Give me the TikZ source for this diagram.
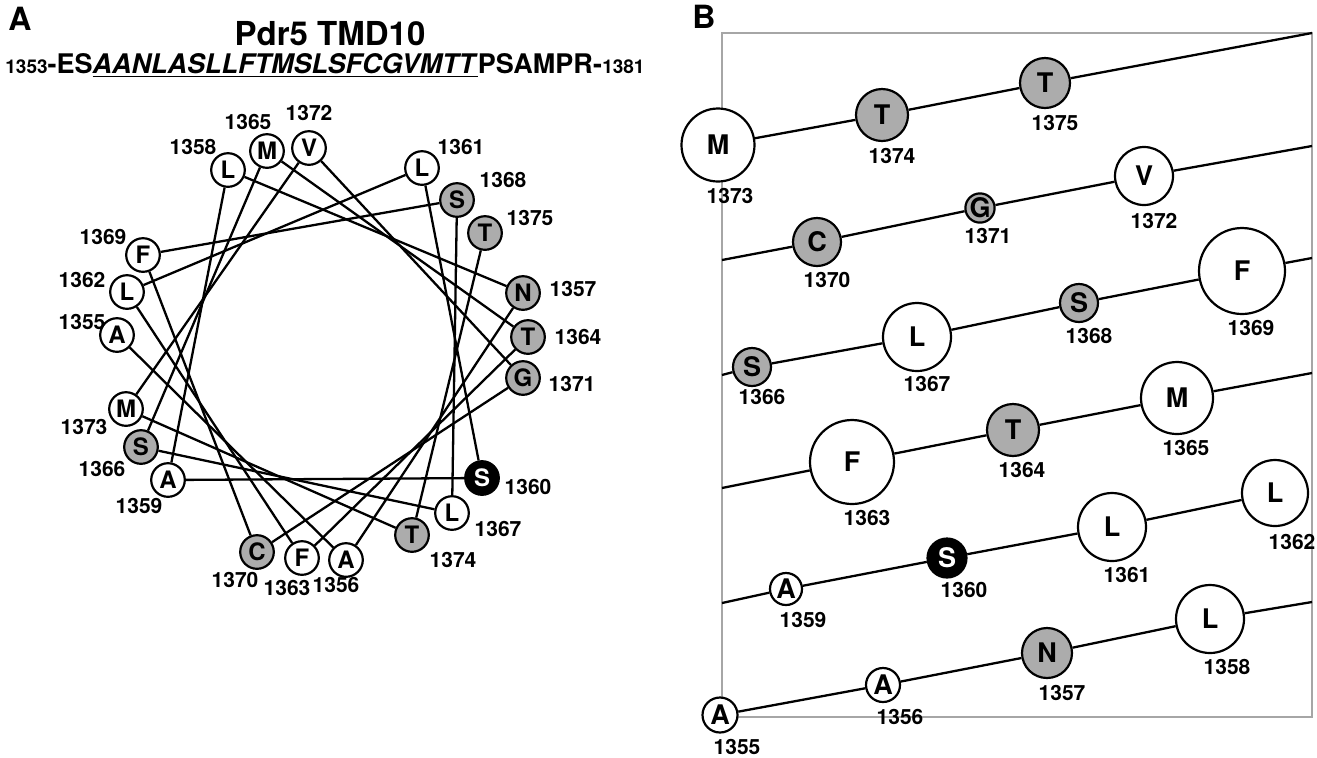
\documentclass[tikz,border=0pt]{standalone}
\usepackage{fontspec}
\setmainfont{TeX Gyre Heros}
\usetikzlibrary{backgrounds}
\definecolor{resgray}{RGB}{172,172,172}
\tikzset{
  ra/.style={circle, draw, line width=1.1pt, fill=white, inner sep=0pt, minimum size=16.8pt, font=\bfseries\fontsize{12}{12}\selectfont},
  rb/.style={circle, draw, line width=1.1pt, fill=white, inner sep=0pt, font=\bfseries\fontsize{13.5}{13.5}\selectfont},
  fw/.style={},
  fg/.style={fill=resgray},
  fb/.style={fill=black, text=white},
  num/.style={inner sep=0pt, font=\bfseries\fontsize{10.5}{10.5}\selectfont},
  numb/.style={inner sep=0pt, font=\bfseries\fontsize{10.5}{10.5}\selectfont},
  conn/.style={line width=1.15pt},
  panel/.style={inner sep=0pt, anchor=base west, font=\bfseries\fontsize{16}{16}\selectfont},
}
\begin{document}
\begin{tikzpicture}[x=0.5pt,y=-0.5pt]
\useasboundingbox (0,0) rectangle (1317,757);
% panel labels and title
\node[panel] (pA) at (8,30) {A};
\node[panel] (pB) at (692,28) {B};
\node[inner sep=0pt, anchor=base, font=\bfseries\fontsize{16.5}{17}\selectfont] (title) at (330,45) {Pdr5 TMD10};
\node[inner sep=0pt, anchor=base west, font=\bfseries\fontsize{13.5}{14}\selectfont] (seq) at (5,73)
  {{\fontsize{9.5}{9.5}\selectfont 1353}-ES\underline{\textit{AANLASLLFTMSLSFCGVMTT}}PSAMPR-{\fontsize{9.5}{9.5}\selectfont 1381}};
% panel A: helical wheel
\foreach \n/\x/\y/\l/\s/\lx/\ly in {
  1355/117/335/A/fw/82/322, 1356/346/560/A/fw/336/585, 1357/523/293/N/fg/573/289,
  1358/228/170/L/fw/193/147, 1359/168/480/A/fw/139/506, 1360/482/478/S/fb/528/487,
  1361/422/168/L/fw/461/147, 1362/127/292/L/fw/82/280, 1363/302/558/F/fw/287/588,
  1364/528/337/T/fg/578/337, 1365/267/151/M/fw/248/122, 1366/141/447/S/fg/102/469,
  1367/452/513/L/fw/498/529, 1368/457/200/S/fg/503/180, 1369/143/255/F/fw/103/237,
  1370/257/552/C/fg/235/580, 1371/523/378/G/fg/572/384, 1372/309/148/V/fw/309/113,
  1373/126/409/M/fw/84/427, 1374/412/535/T/fg/453/560, 1375/485/233/T/fg/530/218}
{
  \node[ra, \s] (a\n) at (\x,\y) {\l};
  \node[num] (na\n) at (\lx,\ly) {\n};
}
\begin{scope}[on background layer]
\foreach \i [evaluate=\i as \j using int(\i+1)] in {1355,...,1374}
  \draw[conn] (a\i) -- (a\j);
\end{scope}
% panel B: helical net
\foreach \n/\x/\y/\l/\s/\d/\lx/\ly in {
  1355/720/715/A/fw/17.5/737/747, 1356/883/685/A/fw/17/900/717, 1357/1047/653/N/fg/25/1062/693,
  1358/1210/619/L/fw/34/1227/667, 1359/786/589/A/fw/16/803/620, 1360/947/558/S/fb/19.5/964/590,
  1361/1112/527/L/fw/34/1127/575, 1362/1275/493/L/fw/33/1292/542, 1363/852/462/F/fw/42/867/518,
  1364/1013/430/T/fg/26/1022/470, 1365/1177/398/M/fw/36/1186/448, 1366/752/367/S/fg/19/762/397,
  1367/917/337/L/fw/34/927/384, 1368/1079/303/S/fg/19/1089/336, 1369/1242/271/F/fw/43/1251/328,
  1370/817/242/C/fg/24/827/280, 1371/980/208/G/fg/13/988/236, 1372/1144/176/V/fw/29/1154/221,
  1373/718/145/M/fw/36.5/730/196, 1374/882/115/T/fg/26/892/156, 1375/1045/83/T/fg/25/1055/123}
{
  \node[rb, \s, minimum size=\d pt] (b\n) at (\x,\y) {\l};
  \node[numb] (nb\n) at (\lx,\ly) {\n};
}
\coordinate (e1) at (1312,602);
\coordinate (s2) at (722,603);
\coordinate (s3) at (722,488);
\coordinate (e3) at (1312,373);
\coordinate (s4) at (722,375);
\coordinate (e4) at (1312,258);
\coordinate (s5) at (722,260);
\coordinate (e5) at (1312,146);
\coordinate (e6) at (1312,33);
\coordinate (boxtl) at (722,33);
\coordinate (boxbr) at (1312,717);
\begin{scope}[on background layer]
\draw[gray!70, line width=0.6pt] (boxtl) rectangle (boxbr);
\draw[conn] (b1355) -- (b1356) -- (b1357) -- (b1358) -- (e1);
\draw[conn] (s2) -- (b1359) -- (b1360) -- (b1361) -- (b1362);
\draw[conn] (s3) -- (b1363) -- (b1364) -- (b1365) -- (e3);
\draw[conn] (s4) -- (b1366) -- (b1367) -- (b1368) -- (b1369) -- (e4);
\draw[conn] (s5) -- (b1370) -- (b1371) -- (b1372) -- (e5);
\draw[conn] (b1373) -- (b1374) -- (b1375) -- (e6);
\end{scope}
\end{tikzpicture}
\end{document}
